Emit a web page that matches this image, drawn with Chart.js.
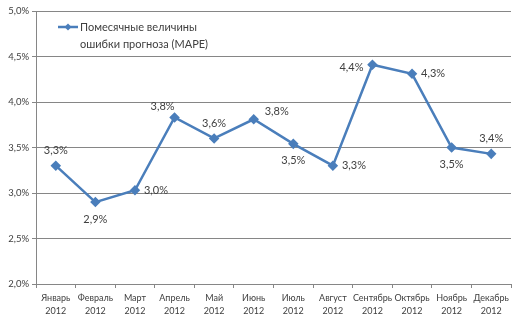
<!DOCTYPE html>
<html>
<head>
<meta charset="utf-8">
<script src="https://cdn.jsdelivr.net/npm/chart.js@4"></script>
<style>
  html, body { margin: 0; padding: 0; background: #fff; }
  #wrap { width: 526px; height: 326px; position: relative; }
</style>
</head>
<body>
<div id="wrap"><canvas id="mapeChart"></canvas></div>
<script>
let mapeChart = document.getElementById("mapeChart");

const months = ['Январь', 'Февраль', 'Март', 'Апрель', 'Май', 'Июнь', 'Июль', 'Август', 'Сентябрь', 'Октябрь', 'Ноябрь', 'Декабрь'];
const year = '2012';
const mapeValues = [3.30, 2.90, 3.03, 3.83, 3.60, 3.81, 3.54, 3.30, 4.41, 4.31, 3.50, 3.43];
const seriesName = ['Помесячные величины', 'ошибки прогноза (MAPE)'];

// where each value label sits relative to its point
const labelPlace = ['above', 'below', 'right', 'aboveLeft', 'above', 'aboveRight', 'below', 'right', 'left', 'right', 'below', 'above'];

const lineBlue = '#4A7EBB';
const textGray = '#404040';
const fontName = 'Lato';

function pct(v) {
  return v.toFixed(1).replace('.', ',') + '%';
}

// value labels, Excel style
const valueLabels = {
  id: 'valueLabels',
  afterDatasetsDraw(chart) {
    const ctx = chart.ctx;
    const meta = chart.getDatasetMeta(0);
    ctx.save();
    ctx.font = '11px ' + fontName;
    ctx.fillStyle = textGray;
    ctx.textBaseline = 'middle';
    meta.data.forEach((pt, i) => {
      const txt = pct(mapeValues[i]);
      let x = pt.x, y = pt.y;
      ctx.textAlign = 'center';
      switch (labelPlace[i]) {
        case 'above': y -= 15; break;
        case 'below': y += 17; break;
        case 'right': ctx.textAlign = 'left'; x += 9; break;
        case 'left': ctx.textAlign = 'right'; x -= 9; y += 3; break;
        case 'aboveLeft': x -= 12; y -= 11; break;
        case 'aboveRight': ctx.textAlign = 'left'; x += 11; y -= 8; break;
      }
      ctx.fillText(txt, x, y);
    });
    ctx.restore();
  }
};

// two-line legend inside the plot area
const boxLegend = {
  id: 'boxLegend',
  afterDraw(chart) {
    const ctx = chart.ctx;
    const a = chart.chartArea;
    const x0 = a.left + 22, y0 = a.top + 16;
    ctx.save();
    ctx.strokeStyle = lineBlue;
    ctx.lineWidth = 2.5;
    ctx.beginPath();
    ctx.moveTo(x0, y0);
    ctx.lineTo(x0 + 20, y0);
    ctx.stroke();
    ctx.fillStyle = lineBlue;
    ctx.beginPath();
    ctx.moveTo(x0 + 10, y0 - 3.5);
    ctx.lineTo(x0 + 13.5, y0);
    ctx.lineTo(x0 + 10, y0 + 3.5);
    ctx.lineTo(x0 + 6.5, y0);
    ctx.closePath();
    ctx.fill();
    ctx.font = '11px ' + fontName;
    ctx.fillStyle = textGray;
    ctx.textAlign = 'left';
    ctx.textBaseline = 'middle';
    ctx.fillText(seriesName[0], x0 + 22, y0);
    ctx.fillText(seriesName[1], x0 + 22, y0 + 17);
    ctx.restore();
  }
};

const dataMape = {
  labels: months.map(m => [m, year]),
  datasets: [{
    label: seriesName.join(' '),
    data: mapeValues,
    borderColor: lineBlue,
    backgroundColor: lineBlue,
    borderWidth: 2.5,
    pointStyle: 'rectRot',
    pointRadius: 3.5,
    pointHoverRadius: 3.5,
    tension: 0
  }]
};

const configMape = {
  type: 'line',
  data: dataMape,
  options: {
    responsive: true,
    maintainAspectRatio: false,
    animation: false,
    layout: { padding: { top: 11, right: 15, left: 0, bottom: 0 } },
    plugins: {
      legend: { display: false },
      tooltip: { enabled: false }
    },
    scales: {
      x: {
        offset: true,
        afterFit(scale) { scale.height = 42; },
        grid: {
          offset: true,
          drawOnChartArea: false,
          color: '#868686',
          tickLength: 4
        },
        border: { color: '#868686' },
        ticks: {
          color: textGray,
          font: { family: fontName, size: 9, lineHeight: 1.45 },
          maxRotation: 0,
          autoSkip: false,
          padding: 4
        }
      },
      y: {
        min: 2,
        max: 5,
        afterFit(scale) { scale.width = 36; },
        grid: {
          color: '#868686',
          tickLength: 4
        },
        border: { color: '#868686' },
        ticks: {
          stepSize: 0.5,
          color: textGray,
          font: { family: fontName, size: 9.5 },
          padding: 3,
          callback: v => pct(v)
        }
      }
    }
  },
  plugins: [valueLabels, boxLegend]
};

let mapeGraph = new Chart(mapeChart, configMape);
</script>
</body>
</html>
